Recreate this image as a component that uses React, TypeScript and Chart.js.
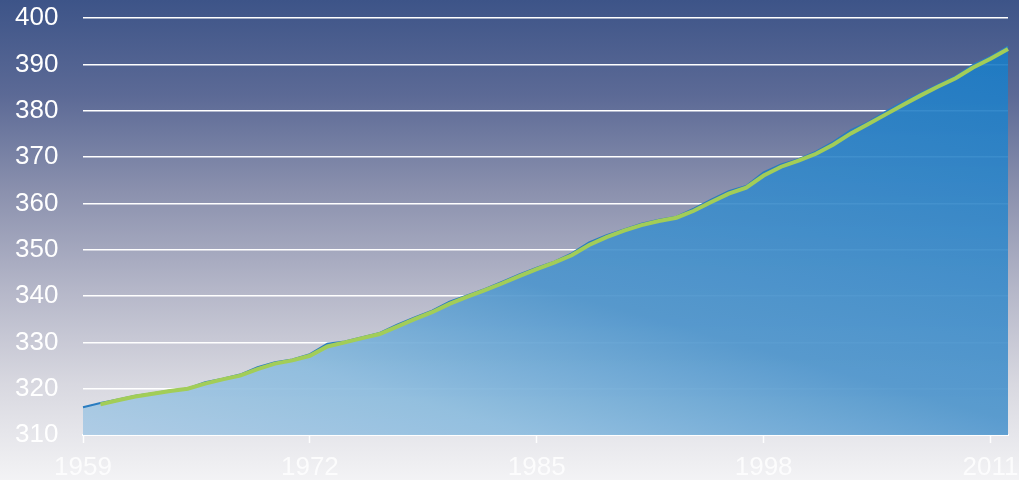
import React, { useEffect, useRef } from "react";
import { Chart, registerables } from "chart.js";

Chart.register(...registerables);

const years = [
  "1959", "1960", "1961", "1962", "1963", "1964", "1965", "1966", "1967", "1968",
  "1969", "1970", "1971", "1972", "1973", "1974", "1975", "1976", "1977", "1978",
  "1979", "1980", "1981", "1982", "1983", "1984", "1985", "1986", "1987", "1988",
  "1989", "1990", "1991", "1992", "1993", "1994", "1995", "1996", "1997", "1998",
  "1999", "2000", "2001", "2002", "2003", "2004", "2005", "2006", "2007", "2008",
  "2009", "2010", "2011", "2012",
];

const areaValues = [
  315.97, 316.91, 317.64, 318.45, 318.99, 319.62, 320.04, 321.38, 322.16, 323.04,
  324.62, 325.68, 326.32, 327.45, 329.68, 330.18, 331.11, 332.04, 333.83, 335.4,
  336.84, 338.75, 340.11, 341.45, 343.05, 344.65, 346.12, 347.42, 349.19, 351.57,
  353.12, 354.39, 355.61, 356.45, 357.1, 358.83, 360.82, 362.61, 363.73, 366.7,
  368.38, 369.55, 371.14, 373.28, 375.8, 377.52, 379.8, 381.9, 383.79, 385.6,
  387.43, 389.9, 391.65, 393.85,
];

const lineValues = [
  null, 316.6, 317.5, 318.3, 318.9, 319.5, 320.0, 321.1, 322.0, 322.8,
  324.2, 325.4, 326.1, 327.1, 329.1, 330.0, 330.9, 331.8, 333.4, 335.0,
  336.5, 338.3, 339.8, 341.2, 342.7, 344.3, 345.8, 347.2, 348.8, 351.0,
  352.7, 354.1, 355.3, 356.2, 356.9, 358.4, 360.3, 362.1, 363.4, 366.0,
  367.9, 369.2, 370.7, 372.7, 375.1, 377.1, 379.2, 381.3, 383.3, 385.2,
  387.0, 389.3, 391.2, 393.3,
];

const xTickLabels = ["1959", "1972", "1985", "1998", "2011"];
const yMin = 310;
const yMax = 400;
const yStep = 10;

export default function App() {
  const canvasRef = useRef<HTMLCanvasElement | null>(null);

  useEffect(() => {
    const canvas = canvasRef.current;
    if (!canvas) return;
    const chart = new Chart(canvas, {
      type: "line",
      data: {
        labels: years,
        datasets: [
          {
            label: "CO2 line",
            data: lineValues,
            borderColor: "#a2cd58",
            borderWidth: 4,
            pointRadius: 0,
            fill: false,
            tension: 0,
            spanGaps: false,
          },
          {
            label: "CO2 area",
            data: areaValues,
            borderColor: "#2a7cc0",
            borderWidth: 2,
            pointRadius: 0,
            tension: 0,
            fill: "start",
            backgroundColor: (ctx: any) => {
              const c = ctx.chart;
              const area = c.chartArea;
              if (!area) return "rgba(80,150,205,0.92)";
              const g = c.ctx.createLinearGradient(
                area.left,
                area.bottom,
                area.left + 180,
                area.bottom - 630
              );
              g.addColorStop(0, "rgba(170,202,228,0.92)");
              g.addColorStop(0.19, "rgba(140,188,222,0.92)");
              g.addColorStop(0.41, "rgba(78,149,204,0.92)");
              g.addColorStop(1, "rgba(22,121,197,0.92)");
              return g;
            },
          },
        ],
      },
      options: {
        responsive: false,
        animation: false,
        layout: { padding: { left: 15, right: 11, top: 18, bottom: 0 } },
        plugins: {
          legend: { display: false },
          tooltip: { enabled: false },
        },
        scales: {
          x: {
            type: "category",
            offset: false,
            grid: {
              display: true,
              drawOnChartArea: false,
              drawTicks: true,
              tickLength: 8,
              tickColor: "rgba(255,255,255,0.95)",
              tickWidth: 1.5,
            },
            border: { display: true, color: "#ffffff", width: 2 },
            ticks: {
              autoSkip: false,
              maxRotation: 0,
              minRotation: 0,
              padding: 9,
              color: "rgba(255,255,255,0.8)",
              font: { family: "Liberation Sans, Arial, sans-serif", size: 26 },
              callback: function (this: any, value: any) {
                const lab = years[value as number];
                return xTickLabels.includes(lab) ? lab : null;
              },
            },
            afterFit: (scale: any) => {
              scale.height = 45;
              scale.paddingLeft = 0;
              scale.paddingRight = 0;
            },
          },
          y: {
            min: yMin,
            max: yMax,
            grid: {
              color: "#ffffff",
              lineWidth: 1.5,
              drawTicks: false,
            },
            border: { display: false },
            ticks: {
              stepSize: yStep,
              crossAlign: "far",
              padding: 0,
              color: "#ffffff",
              font: { family: "Liberation Sans, Arial, sans-serif", size: 26 },
            },
            afterFit: (scale: any) => {
              scale.width = 68;
              scale.paddingTop = 0;
              scale.paddingBottom = 0;
            },
          },
        },
      },
    } as any);
    return () => chart.destroy();
  }, []);

  return (
    <div
      style={{
        position: "fixed",
        left: 0,
        top: 0,
        width: 1019,
        height: 480,
        background:
          "linear-gradient(to bottom, #3d5488 0%, #5c6a96 20%, #8b91ae 40%, #b4b6c8 60%, #d8d8e0 80%, #f3f3f5 100%)",
      }}
    >
      <canvas ref={canvasRef} width={1019} height={480} style={{ display: "block" }} />
    </div>
  );
}
